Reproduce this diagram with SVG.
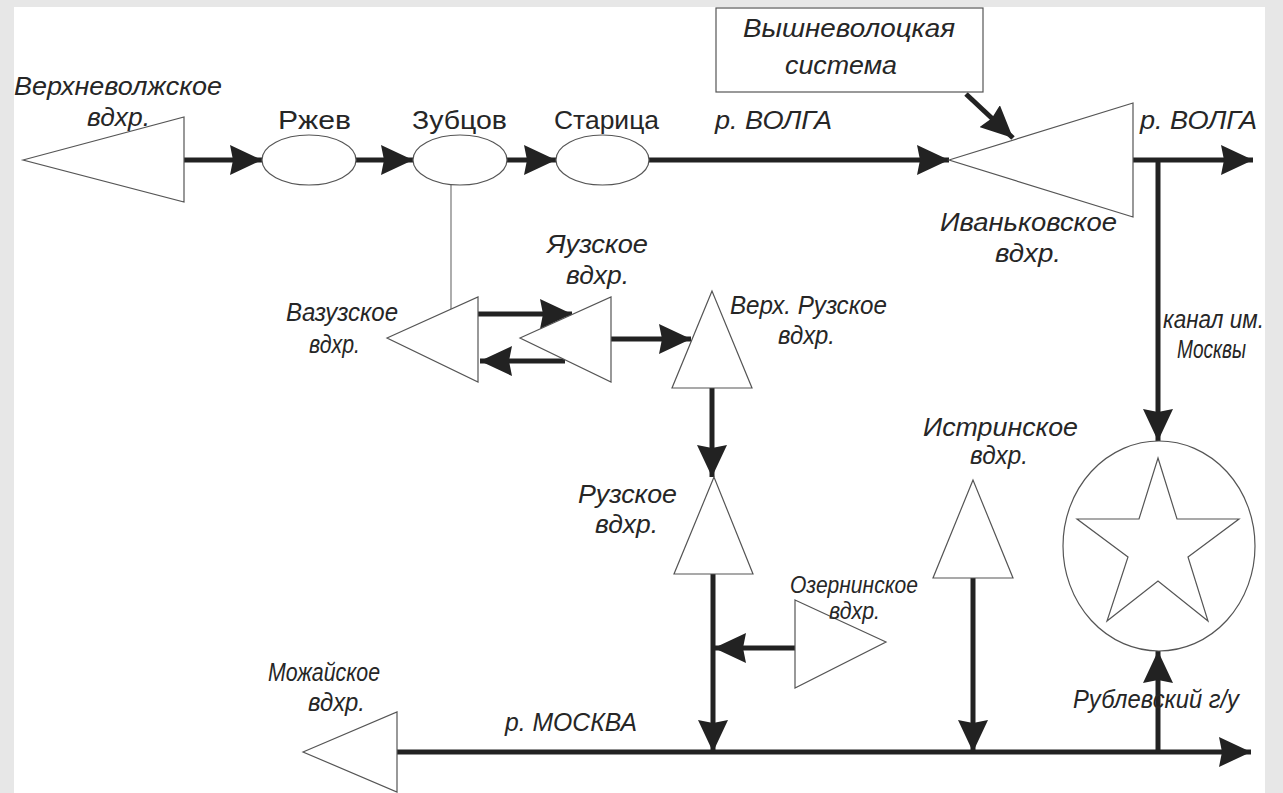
<svg xmlns="http://www.w3.org/2000/svg" width="1283" height="793" viewBox="0 0 1283 793">
<defs>
<style>
.bg{fill:#e7e7e7}
.paper{fill:#ffffff}
.shape{fill:#ffffff;stroke:#555555;stroke-width:1.2}
.flow{fill:none;stroke:#222222;stroke-width:5;marker-end:url(#ah)}
.thin{fill:none;stroke:#777777;stroke-width:1.2}
text{font-family:"Liberation Sans",Arial,sans-serif;fill:#262626;font-size:26px}
.it{font-style:italic}
.sm{font-size:23px}
.md{font-size:25px}
</style>
<marker id="ah" viewBox="0 0 32 30" refX="32" refY="15" markerWidth="32" markerHeight="30" markerUnits="userSpaceOnUse" orient="auto">
<path d="M0,0 L32,15 L0,30 L3,15 Z" fill="#222222"/>
</marker>
</defs>
<rect class="bg" x="0" y="0" width="1283" height="793"/>
<rect class="paper" x="14" y="7" width="1251" height="786"/>

<g id="connectors">
<line class="flow" x1="184" y1="160" x2="262" y2="160"/>
<line class="flow" x1="356" y1="160" x2="413" y2="160"/>
<line class="flow" x1="507" y1="160" x2="556" y2="160"/>
<line class="flow" x1="649" y1="160" x2="949" y2="160"/>
<line class="flow" x1="966" y1="94" x2="1013" y2="138"/>
<line class="flow" x1="1133" y1="160" x2="1253" y2="160"/>
<line class="flow" x1="1158" y1="160" x2="1158" y2="441"/>
<line class="thin" x1="451" y1="185" x2="451" y2="309"/>
<line class="flow" x1="478" y1="314" x2="572" y2="314"/>
<line class="flow" x1="565" y1="361" x2="480" y2="361"/>
<line class="flow" x1="611" y1="339" x2="691" y2="339"/>
<line class="flow" x1="712" y1="388" x2="712" y2="477"/>
<line class="flow" x1="713" y1="574" x2="713" y2="752"/>
<line class="flow" x1="795" y1="648" x2="714" y2="648"/>
<line class="flow" x1="973" y1="578" x2="973" y2="752"/>
<line class="flow" x1="397" y1="752" x2="1251" y2="752"/>
<line class="flow" x1="1158" y1="752" x2="1158" y2="651"/>
<text class="it" x="715" y="129" textLength="117" lengthAdjust="spacingAndGlyphs">р. ВОЛГА</text>
<text class="it" x="1140" y="129" textLength="117" lengthAdjust="spacingAndGlyphs">р. ВОЛГА</text>
<text class="it md" x="1163" y="328" textLength="101" lengthAdjust="spacingAndGlyphs">канал им.</text>
<text class="it md" x="1177" y="358" textLength="69" lengthAdjust="spacingAndGlyphs">Москвы</text>
<text class="it" x="505" y="731" textLength="132" lengthAdjust="spacingAndGlyphs">р. МОСКВА</text>
<text class="it" x="1073" y="708" textLength="166" lengthAdjust="spacingAndGlyphs">Рублевский г/у</text>
</g>

<g id="verkhnevolzhskoe">
<polygon class="shape" points="23,160 184,117 184,202"/>
<text class="it" x="14" y="95" textLength="208" lengthAdjust="spacingAndGlyphs">Верхневолжское</text>
<text class="it" x="87" y="126" textLength="63" lengthAdjust="spacingAndGlyphs">вдхр.</text>
</g>

<g id="rzhev">
<ellipse class="shape" cx="309" cy="160" rx="47" ry="25"/>
<text x="278" y="129" textLength="73" lengthAdjust="spacingAndGlyphs">Ржев</text>
</g>

<g id="zubtsov">
<ellipse class="shape" cx="460" cy="160" rx="47" ry="25"/>
<text x="412" y="129" textLength="95" lengthAdjust="spacingAndGlyphs">Зубцов</text>
</g>

<g id="staritsa">
<ellipse class="shape" cx="602.5" cy="160" rx="46.5" ry="25"/>
<text x="554" y="129" textLength="105" lengthAdjust="spacingAndGlyphs">Старица</text>
</g>

<g id="vyshnevolotskaya">
<rect class="shape" x="716" y="8" width="267" height="84"/>
<text class="it" x="743" y="37" textLength="212" lengthAdjust="spacingAndGlyphs">Вышневолоцкая</text>
<text class="it" x="785" y="74" textLength="112" lengthAdjust="spacingAndGlyphs">система</text>
</g>

<g id="ivankovskoe">
<polygon class="shape" points="949,160 1133,103 1133,217"/>
<text class="it" x="940" y="231" textLength="177" lengthAdjust="spacingAndGlyphs">Иваньковское</text>
<text class="it" x="995" y="262" textLength="66" lengthAdjust="spacingAndGlyphs">вдхр.</text>
</g>

<g id="vazuzskoe">
<polygon class="shape" points="387,338 478,297 478,382"/>
<text class="it" x="286" y="321" textLength="112" lengthAdjust="spacingAndGlyphs">Вазузское</text>
<text class="it" x="309" y="353" textLength="51" lengthAdjust="spacingAndGlyphs">вдхр.</text>
</g>

<g id="yauzskoe">
<polygon class="shape" points="520,338 611,297 611,382"/>
<text class="it" x="547" y="253" textLength="101" lengthAdjust="spacingAndGlyphs">Яузское</text>
<text class="it" x="566" y="284" textLength="63" lengthAdjust="spacingAndGlyphs">вдхр.</text>
</g>

<g id="verkh-ruzskoe">
<polygon class="shape" points="712,291 672,388 752,388"/>
<text class="it" x="730" y="314" textLength="157" lengthAdjust="spacingAndGlyphs">Верх. Рузское</text>
<text class="it" x="778" y="344" textLength="57" lengthAdjust="spacingAndGlyphs">вдхр.</text>
</g>

<g id="ruzskoe">
<polygon class="shape" points="714,477 674,574 753,574"/>
<text class="it" x="578" y="503" textLength="99" lengthAdjust="spacingAndGlyphs">Рузское</text>
<text class="it" x="595" y="533" textLength="63" lengthAdjust="spacingAndGlyphs">вдхр.</text>
</g>

<g id="ozerninskoe">
<polygon class="shape" points="795,600 886,642 795,688"/>
<text class="it sm" x="790" y="593" textLength="128" lengthAdjust="spacingAndGlyphs">Озернинское</text>
<text class="it sm" x="829" y="619" textLength="51" lengthAdjust="spacingAndGlyphs">вдхр.</text>
</g>

<g id="istrinskoe">
<polygon class="shape" points="973,480 933,578 1013,578"/>
<text class="it" x="923" y="436" textLength="155" lengthAdjust="spacingAndGlyphs">Истринское</text>
<text class="it" x="970" y="464" textLength="58" lengthAdjust="spacingAndGlyphs">вдхр.</text>
</g>

<g id="mozhayskoe">
<polygon class="shape" points="303,752 397,712 397,792"/>
<text class="it" x="268" y="681" textLength="112" lengthAdjust="spacingAndGlyphs">Можайское</text>
<text class="it" x="308" y="711" textLength="57" lengthAdjust="spacingAndGlyphs">вдхр.</text>
</g>

<g id="rublevsky">
<ellipse class="shape" cx="1159" cy="546" rx="96" ry="105"/>
<polygon class="shape" points="1158,458 1177,519 1239,519 1188,557 1208,621 1158,581 1107,621 1128,557 1077,519 1139,519"/>
</g>
</svg>
